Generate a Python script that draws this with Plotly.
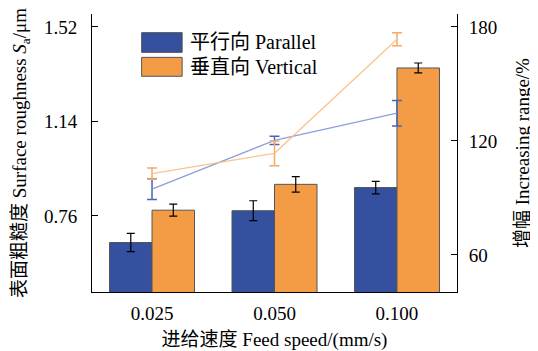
import plotly.graph_objects as go
from plotly.subplots import make_subplots

# ---- data ----
categories = ["0.025", "0.050", "0.100"]
parallel_sa = [0.653, 0.781, 0.874]
parallel_sa_err = [0.037, 0.040, 0.025]
vertical_sa = [0.783, 0.887, 1.355]
vertical_sa_err = [0.024, 0.031, 0.020]
parallel_inc = [94.6, 120.3, 134.6]
parallel_inc_err = [5.4, 2.2, 6.7]
vertical_inc = [102.8, 113.5, 173.5]
vertical_inc_err = [3.0, 6.5, 3.4]
left_ticks = [0.76, 1.14, 1.52]
right_ticks = [60, 120, 180]
legend_cn = ["平行向", "垂直向"]
legend_en = ["Parallel", "Vertical"]

FONT = "Liberation Serif, Noto Sans CJK SC, serif"
SERIF = "font-family:Liberation Serif"
BLUE = "#34509e"
ORANGE = "#f39c45"


def mixed(cn, en):
    return f"{cn} <span style='{SERIF}'>{en}</span>"


fig = make_subplots(specs=[[{"secondary_y": True}]])

fig.add_trace(go.Bar(
    x=categories, y=parallel_sa, name=legend_en[0],
    marker=dict(color=BLUE, line=dict(color="#555555", width=1)),
    error_y=dict(type="data", array=parallel_sa_err, color="black", thickness=1.2, width=4),
    showlegend=False), secondary_y=False)
fig.add_trace(go.Bar(
    x=categories, y=vertical_sa, name=legend_en[1],
    marker=dict(color=ORANGE, line=dict(color="#555555", width=1)),
    error_y=dict(type="data", array=vertical_sa_err, color="black", thickness=1.2, width=4),
    showlegend=False), secondary_y=False)

fig.add_trace(go.Scatter(
    x=categories, y=parallel_inc, mode="lines",
    line=dict(color="rgba(120,145,210,0.85)", width=1.3),
    error_y=dict(type="data", array=parallel_inc_err, color="#4a66b8", thickness=1.5, width=5),
    showlegend=False), secondary_y=True)
fig.add_trace(go.Scatter(
    x=categories, y=vertical_inc, mode="lines",
    line=dict(color="rgba(250,190,130,0.9)", width=1.3),
    error_y=dict(type="data", array=vertical_inc_err, color="#f5aa66", thickness=1.5, width=5),
    showlegend=False), secondary_y=True)

# custom legend (large swatches as in the reference)
swatches = [(0.933, 0.862, BLUE), (0.844, 0.776, ORANGE)]
for (y1, y0, col), cn, en in zip(swatches, legend_cn, legend_en):
    fig.add_shape(type="rect", xref="paper", yref="paper",
                  x0=0.136, x1=0.247, y0=y0, y1=y1,
                  fillcolor=col, line=dict(color="#555555", width=1))
    fig.add_annotation(xref="paper", yref="paper", x=0.262, y=(y0 + y1) / 2,
                       text=mixed(cn, en), showarrow=False, xanchor="left", yanchor="middle",
                       font=dict(family=FONT, size=20, color="black"))

# page body has an 8px margin: compensate so the plot lands where the reference has it
fig.update_layout(
    width=538, height=343,
    margin=dict(l=84, r=89, t=6, b=59, autoexpand=False),
    paper_bgcolor="white", plot_bgcolor="white",
    barmode="group", bargap=0.306, bargroupgap=0,
    font=dict(family=FONT, size=18, color="black"),
)
fig.update_xaxes(
    type="category", range=[-0.49, 2.49], automargin=False, domain=[0, 1],
    showline=True, linecolor="black", linewidth=1, mirror=False,
    ticks="", showgrid=False, zeroline=False,
    ticklabelstandoff=4,
    title=dict(text=mixed("进给速度", "Feed speed/(mm/s)"), font=dict(family=FONT, size=19), standoff=10),
    tickfont=dict(family=FONT, size=19),
)
fig.update_yaxes(
    range=[0.454, 1.572], tickvals=left_ticks, ticktext=[f"{v:.2f}" for v in left_ticks],
    automargin=False, domain=[0, 1],
    showline=True, linecolor="black", linewidth=1,
    ticks="inside", ticklen=6, tickcolor="black", showgrid=False, zeroline=False,
    ticklabelstandoff=10,
    title=dict(text=mixed("表面粗糙度", "Surface roughness <i>S</i><sub>a</sub>/μm"),
               font=dict(family=FONT, size=19), standoff=12),
    tickfont=dict(family=FONT, size=19),
    secondary_y=False,
)
fig.update_yaxes(
    range=[40.5, 186.8], tickvals=right_ticks, automargin=False,
    showline=True, linecolor="black", linewidth=1,
    ticks="inside", ticklen=6, tickcolor="black", showgrid=False, zeroline=False,
    ticklabelstandoff=7,
    title=dict(text=mixed("增幅", "Increasing range/%"), font=dict(family=FONT, size=19), standoff=19),
    tickfont=dict(family=FONT, size=19),
    secondary_y=True,
)

fig.write_html("out.html")
